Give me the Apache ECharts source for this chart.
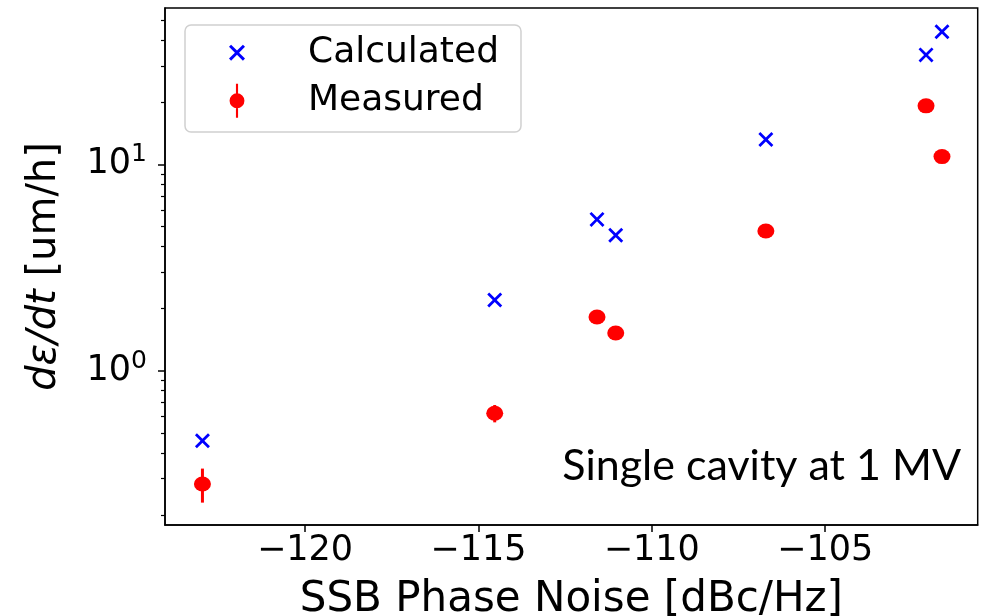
<!DOCTYPE html>
<html><head><meta charset="utf-8">
<script src="https://cdn.jsdelivr.net/npm/echarts@6/dist/echarts.min.js"></script>
<style>html,body{margin:0;padding:0;background:#fff}#c{width:987px;height:616px}</style>
</head><body><div id="c"></div>
<script>
// ---- data ----
const noiseX = [-122.96, -114.53, -111.58, -111.04, -106.71, -102.09, -101.63];
const calculated = [0.458, 2.20, 5.41, 4.53, 13.2, 33.9, 43.9];
const measured = [0.2825, 0.622, 1.82, 1.523, 4.75, 19.2, 10.9];
const measuredErr = [0.053, 0.06, 0.08, 0.07, 0.2, 0.8, 0.45];
const xTicks = [-120, -115, -110, -105];
const yMajorTicks = [1, 10];
const yMinorTicks = [0.2, 0.3, 0.4, 0.5, 0.6, 0.7, 0.8, 0.9, 2, 3, 4, 5, 6, 7, 8, 9, 20, 30, 40, 50];
const xRange = [-124.04, -100.6];
const yRange = [0.1788, 57.2];

const FONT = 'DejaVu Sans';
const xPath = 'path://M0,1.3L1.3,0L5,3.7L8.7,0L10,1.3L6.3,5L10,8.7L8.7,10L5,6.3L1.3,10L0,8.7L3.7,5Z';
const measPath = 'path://M4.0,0H6.0V32H4.0Z M5,9A7,7 0 1 1 5,23A7,7 0 1 1 5,9Z';

const chart = echarts.init(document.getElementById('c'), null, {renderer: 'canvas'});
const axisLineStyle = {color: '#000', width: 1.5};

chart.setOption({
  animation: false,
  backgroundColor: '#fff',
  grid: {left: 165, right: 9.3, top: 8, bottom: 91, containLabel: false, outerBoundsMode: 'none',
    show: true, borderColor: '#000', borderWidth: 1.5, backgroundColor: 'transparent'},
  legend: {
    orient: 'vertical', left: 185, top: 25,
    data: [{name: 'Calculated', icon: xPath}, {name: 'Measured', icon: measPath}],
    itemWidth: 16, itemHeight: 34, itemGap: 8,
    padding: [7.7, 22, 11.3, 44],
    borderColor: '#d0d0d0', borderWidth: 1.5, borderRadius: 6,
    backgroundColor: 'rgba(255,255,255,0.85)',
    selectedMode: false,
    itemStyle: {opacity: 1},
    textStyle: {fontSize: 36, color: '#000', fontFamily: FONT, padding: [0, 0, 0, 58], lineHeight: 40}
  },
  xAxis: {
    type: 'value', min: xRange[0], max: xRange[1],
    axisLine: {show: true, onZero: false, lineStyle: axisLineStyle},
    axisTick: {show: true, customValues: xTicks, length: 7, lineStyle: axisLineStyle},
    axisLabel: {customValues: xTicks, formatter: v => '\u2212' + Math.abs(v), fontSize: 35, color: '#000', fontFamily: FONT, margin: 8},
    splitLine: {show: false},
    name: 'SSB Phase Noise [dBc/Hz]', nameLocation: 'middle', nameGap: 54, nameMoveOverlap: false,
    nameTextStyle: {fontSize: 42, color: '#000', fontFamily: FONT}
  },
  yAxis: [{
    type: 'log', logBase: 10, min: yRange[0], max: yRange[1],
    axisLine: {show: true, lineStyle: axisLineStyle},
    axisTick: {show: true, customValues: yMajorTicks, length: 7, lineStyle: axisLineStyle},
    axisLabel: {
      customValues: yMajorTicks, margin: 18, color: '#000', fontFamily: FONT, fontSize: 35, lineHeight: 44,
      formatter: v => '10{s|' + Math.round(Math.log10(v)) + '}',
      rich: {s: {fontSize: 25, fontFamily: FONT, color: '#000', verticalAlign: 'top', lineHeight: 26}}
    },
    splitLine: {show: false}, minorTick: {show: false}, minorSplitLine: {show: false},
    name: '{i|d\u03b5/dt} [um/h]', nameLocation: 'middle', nameRotate: 90, nameGap: 100, nameMoveOverlap: false,
    nameTextStyle: {fontSize: 40, color: '#000', fontFamily: FONT,
      rich: {i: {fontStyle: 'italic', fontSize: 40, fontFamily: FONT, color: '#000'}}}
  }, {
    type: 'log', logBase: 10, min: yRange[0], max: yRange[1], position: 'left',
    axisLine: {show: false},
    axisTick: {show: true, customValues: yMinorTicks, length: 4, lineStyle: {color: '#000', width: 1.2}},
    axisLabel: {show: false},
    splitLine: {show: false}
  }],
  graphic: [{
    type: 'text', right: 987 - 961, top: 445,
    style: {text: 'Single cavity at 1 MV', fontSize: 43, fontFamily: 'Lato', fill: '#000'}
  }],
  series: [{
    name: 'Calculated', type: 'scatter', symbol: xPath, symbolSize: 15,
    itemStyle: {color: '#0000ff', opacity: 1},
    data: noiseX.map((x, i) => [x, calculated[i]]), z: 3
  }, {
    name: 'Measured error', type: 'custom',
    data: noiseX.map((x, i) => [x, measured[i], measuredErr[i]]),
    encode: {x: 0, y: 1},
    renderItem: (params, api) => {
      const x = api.value(0), y = api.value(1), e = api.value(2);
      const p1 = api.coord([x, y - e]);
      const p2 = api.coord([x, y + e]);
      return {type: 'line', shape: {x1: p1[0], y1: p1[1], x2: p2[0], y2: p2[1]}, style: {stroke: '#ff0000', lineWidth: 3}};
    }, z: 3
  }, {
    name: 'Measured', type: 'scatter', symbol: 'circle', symbolSize: [17, 15],
    itemStyle: {color: '#ff0000', opacity: 1},
    data: noiseX.map((x, i) => [x, measured[i]]), z: 4
  }]
});
</script></body></html>
